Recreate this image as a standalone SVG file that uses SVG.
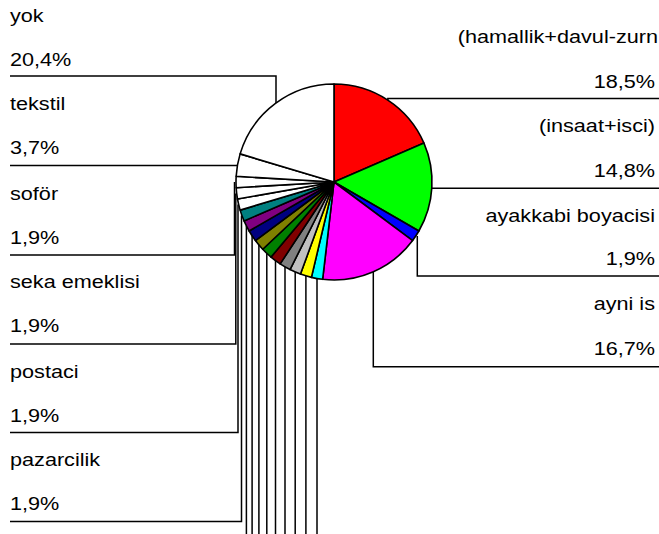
<svg xmlns="http://www.w3.org/2000/svg" width="659" height="534" viewBox="0 0 659 534">
<style>
.w{stroke:#000;stroke-width:1.6;stroke-linejoin:round}
.t{font-family:"Liberation Sans",Arial,sans-serif;font-size:18.5px;fill:#000}
.r{text-anchor:end}
.ld{fill:none;stroke:#000;stroke-width:1.5}
</style>
<rect width="659" height="534" fill="#fff"/>
<g id="connectors">
<path class="ld" d="M387.85 100.12 V98.5 H659"/>
<path class="ld" d="M431.83 188.3 H659"/>
<path class="ld" d="M417.3 236 V276 H659"/>
<path class="ld" d="M373.3 272 V366.7 H659"/>
<path class="ld" d="M10 76 H276 V103.4"/>
<path class="ld" d="M10 165.5 H237.5"/>
<path class="ld" d="M10 255 H234.5 V182"/>
<path class="ld" d="M10 344 H235.8 V193.4"/>
<path class="ld" d="M10 432.5 H238 V204.6"/>
<path class="ld" d="M10 521.5 H241.5 V215.5"/>
<path class="ld" d="M246.4 226 V534 M252.1 235.9 V534 M258.9 245 V534 M266.8 253.3 V534 M275.5 260.6 V534 M285 266.9 V534 M295.2 272 V534 M305.9 275.9 V534 M317 278.5 V534"/>
</g>
<g id="pie">
<g id="s-red"><path class="w" fill="#FF0000" d="M334 182 L334 84 A98 98 0 0 1 423.95 143.08 Z"/></g>
<g id="s-green"><path class="w" fill="#00FF00" d="M334 182 L423.95 143.08 A98 98 0 0 1 418.87 231 Z"/></g>
<g id="s-blue"><path class="w" fill="#0000FF" d="M334 182 L418.87 231 A98 98 0 0 1 412.61 240.53 Z"/></g>
<g id="s-magenta"><path class="w" fill="#FF00FF" d="M334 182 L412.61 240.53 A98 98 0 0 1 322.62 279.33 Z"/></g>
<g id="s-cyan"><path class="w" fill="#00FFFF" d="M334 182 L322.62 279.33 A98 98 0 0 1 311.4 277.35 Z"/></g>
<g id="s-yellow"><path class="w" fill="#FFFF00" d="M334 182 L311.4 277.35 A98 98 0 0 1 300.48 274.09 Z"/></g>
<g id="s-silver"><path class="w" fill="#C0C0C0" d="M334 182 L300.48 274.09 A98 98 0 0 1 290.02 269.57 Z"/></g>
<g id="s-gray"><path class="w" fill="#808080" d="M334 182 L290.02 269.57 A98 98 0 0 1 280.15 263.88 Z"/></g>
<g id="s-darkred"><path class="w" fill="#800000" d="M334 182 L280.15 263.88 A98 98 0 0 1 271.01 257.07 Z"/></g>
<g id="s-dkgreen"><path class="w" fill="#008000" d="M334 182 L271.01 257.07 A98 98 0 0 1 262.71 249.25 Z"/></g>
<g id="s-olive"><path class="w" fill="#808000" d="M334 182 L262.71 249.25 A98 98 0 0 1 255.39 240.53 Z"/></g>
<g id="s-navy"><path class="w" fill="#000080" d="M334 182 L255.39 240.53 A98 98 0 0 1 249.13 231 Z"/></g>
<g id="s-purple"><path class="w" fill="#800080" d="M334 182 L249.13 231 A98 98 0 0 1 244.05 220.92 Z"/></g>
<g id="s-teal"><path class="w" fill="#008080" d="M334 182 L244.05 220.92 A98 98 0 0 1 240.12 210.11 Z"/></g>
<g id="s-postaci"><path class="w" fill="#FFFFFF" d="M334 182 L240.12 210.11 A98 98 0 0 1 237.49 199.01 Z"/></g>
<g id="s-seka"><path class="w" fill="#FFFFFF" d="M334 182 L237.49 199.01 A98 98 0 0 1 236.17 187.69 Z"/></g>
<g id="s-sofor"><path class="w" fill="#FFFFFF" d="M334 182 L236.17 187.69 A98 98 0 0 1 236.17 176.31 Z"/></g>
<g id="s-tekstil"><path class="w" fill="#FFFFFF" d="M334 182 L236.17 176.31 A98 98 0 0 1 240.12 153.89 Z"/></g>
<g id="s-yok"><path class="w" fill="#FFFFFF" d="M334 182 L240.12 153.89 A98 98 0 0 1 334 84 Z"/></g>
</g>
<g id="label-yok" class="t"><text transform="translate(10,21.7) scale(1.17,1)">yok</text><text transform="translate(10,65.7) scale(1.17,1)">20,4%</text></g>
<g id="label-tekstil" class="t"><text transform="translate(10,110) scale(1.17,1)">tekstil</text><text transform="translate(10,154) scale(1.17,1)">3,7%</text></g>
<g id="label-sofor" class="t"><text transform="translate(10,200) scale(1.17,1)">soför</text><text transform="translate(10,244) scale(1.17,1)">1,9%</text></g>
<g id="label-seka" class="t"><text transform="translate(10,288) scale(1.17,1)">seka emeklisi</text><text transform="translate(10,332) scale(1.17,1)">1,9%</text></g>
<g id="label-postaci" class="t"><text transform="translate(10,377.7) scale(1.17,1)">postaci</text><text transform="translate(10,421.7) scale(1.17,1)">1,9%</text></g>
<g id="label-pazarcilik" class="t"><text transform="translate(10,466) scale(1.17,1)">pazarcilik</text><text transform="translate(10,510) scale(1.17,1)">1,9%</text></g>
<g id="label-hamallik" class="t r"><text transform="translate(658,42.5) scale(1.17,1)">(hamallik+davul-zurn</text><text transform="translate(655,88) scale(1.17,1)">18,5%</text></g>
<g id="label-insaat" class="t r"><text transform="translate(655,132) scale(1.17,1)">(insaat+isci)</text><text transform="translate(655,177) scale(1.17,1)">14,8%</text></g>
<g id="label-ayakkabi" class="t r"><text transform="translate(655,221.5) scale(1.17,1)">ayakkabi boyacisi</text><text transform="translate(655,265) scale(1.17,1)">1,9%</text></g>
<g id="label-ayni" class="t r"><text transform="translate(655,310) scale(1.17,1)">ayni is</text><text transform="translate(655,355) scale(1.17,1)">16,7%</text></g>
</svg>
